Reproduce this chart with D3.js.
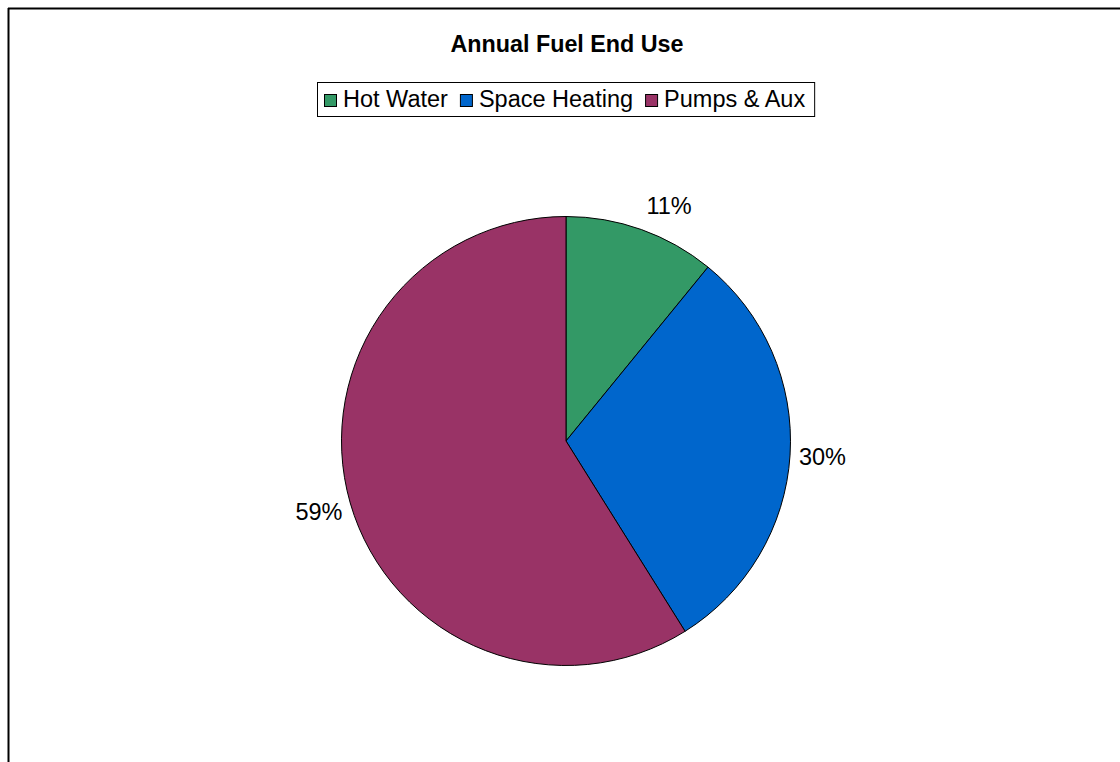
<!DOCTYPE html>
<html><head><meta charset="utf-8">
<script src="https://cdn.jsdelivr.net/npm/d3@7"></script>
<style>body{margin:0;background:#fff}svg{display:block}</style>
</head><body>
<script>
const categories = ["Hot Water", "Space Heating", "Pumps & Aux"];
const values = [10.9, 30.2, 58.9];
const labels = ["11%", "30%", "59%"];
const colors = ["#339966", "#0066CC", "#993366"];
const title = "Annual Fuel End Use";

const W = 1120, H = 762;
const svg = d3.select("body").append("svg").attr("width", W).attr("height", H);
const font = "Liberation Sans, Arial, sans-serif";

// frame
svg.append("line").attr("x1", 8).attr("x2", W).attr("y1", 8.5).attr("y2", 8.5).attr("stroke", "#000").attr("stroke-width", 2);
svg.append("line").attr("x1", 8.5).attr("x2", 8.5).attr("y1", 8).attr("y2", H).attr("stroke", "#000").attr("stroke-width", 2);

svg.append("text").attr("x", 567).attr("y", 51.5).attr("text-anchor", "middle")
  .attr("font-family", font).attr("font-weight", "bold").attr("font-size", 23.3).text(title);

// legend
const lg = svg.append("g");
const lx0 = 317, ly0 = 82, lh = 34;
const items = lg.selectAll("g.it").data(categories).join("g").attr("class", "it");
items.append("rect").attr("width", 12).attr("height", 12).attr("y", ly0 + 12.5)
  .attr("fill", (d, i) => colors[i]).attr("stroke", "#000").attr("stroke-width", 1);
items.append("text").attr("font-family", font).attr("font-size", 23.5).attr("y", ly0 + 25).text(d => d);
let x = lx0 + 7;
items.each(function() {
  const g = d3.select(this);
  g.select("rect").attr("x", x + 0.5);
  g.select("text").attr("x", x + 19);
  x += 19 + g.select("text").node().getComputedTextLength() + 12;
});
const lw = x - 12 + 9 - lx0;
lg.insert("rect", ":first-child").attr("x", lx0 + 0.5).attr("y", ly0 + 0.5).attr("width", lw).attr("height", lh)
  .attr("fill", "#fff").attr("stroke", "#000").attr("stroke-width", 1);

// pie
const cx = 566, cy = 441, r = 224.5;
const pie = d3.pie().sort(null).value(d => d)(values);
const arc = d3.arc().innerRadius(0).outerRadius(r);
const g = svg.append("g").attr("transform", `translate(${cx},${cy})`);
g.selectAll("path").data(pie).join("path").attr("d", arc)
  .attr("fill", (d, i) => colors[i]).attr("stroke", "#000").attr("stroke-width", 1);

// labels outside the pie along each slice's mid angle
const lr = r + 32.5;
g.selectAll("text").data(pie).join("text")
  .attr("transform", d => {
    let a = (d.startAngle + d.endAngle) / 2;
    if (a < 0.5) a += 0.07; // small top slice: label sits slightly clockwise
    return `translate(${lr * Math.sin(a)},${-lr * Math.cos(a)})`;
  })
  .attr("text-anchor", "middle").attr("dy", "0.35em")
  .attr("font-family", font).attr("font-size", 23.5).text((d, i) => labels[i]);
</script>
</body></html>
